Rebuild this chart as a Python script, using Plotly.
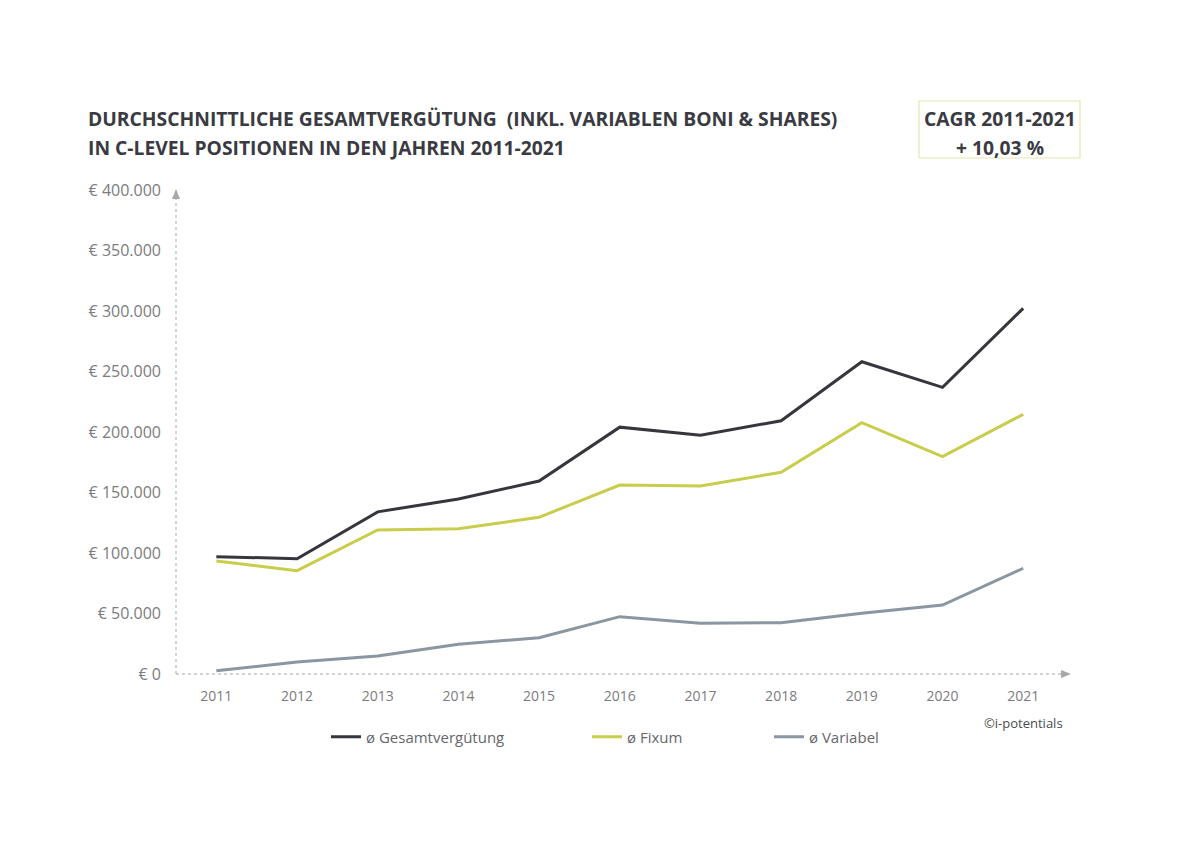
import plotly.graph_objects as go

years = [2011, 2012, 2013, 2014, 2015, 2016, 2017, 2018, 2019, 2020, 2021]
gesamt = [97000, 95300, 134000, 144600, 159500, 204000, 197300, 209300, 258100, 236900, 302200]
fixum = [93400, 85400, 119000, 120100, 129500, 156200, 155400, 166700, 207700, 179600, 214600]
variabel = [2700, 9900, 14900, 24500, 30000, 47400, 41900, 42400, 50200, 57000, 87400]

series_names = ["ø Gesamtvergütung", "ø Fixum", "ø Variabel"]
series_colors = ["#36363e", "#c9cd4c", "#8a97a2"]

y_tickvals = [0, 50000, 100000, 150000, 200000, 250000, 300000, 350000, 400000]
y_ticktext = ["€ 0", "€ 50.000", "€ 100.000", "€ 150.000", "€ 200.000",
              "€ 250.000", "€ 300.000", "€ 350.000", "€ 400.000"]

title_lines = ["DURCHSCHNITTLICHE GESAMTVERGÜTUNG  (INKL. VARIABLEN BONI & SHARES)",
               "IN C-LEVEL POSITIONEN IN DEN JAHREN 2011-2021"]
cagr_lines = ["CAGR 2011-2021", "+ 10,03 %"]
credit = "©i-potentials"

W, H = 1200, 848
OFF = 8  # page body margin
L, R, T, B = 176, 1070, 190, 674  # plot area in screen pixels

def px(x):
    return (x - L) / (R - L)

def py(y):
    return (B - y) / (B - T)

fig = go.Figure()
legend_ids = ["legend2", "legend3", "legend4"]
for name, vals, col, lg in zip(series_names, [gesamt, fixum, variabel], series_colors, legend_ids):
    fig.add_trace(go.Scatter(x=years, y=vals, mode="lines", name=name,
                             line=dict(color=col, width=3), legend=lg, showlegend=True))

tick_font = dict(family="Open Sans", size=14, color="#7b7b80")
legend_font = dict(family="Open Sans", size=15, color="#66666c")
leg_common = dict(orientation="h", yanchor="middle", xanchor="left", visible=True,
                  font=legend_font, bgcolor="rgba(0,0,0,0)")

fig.update_layout(
    width=W, height=H, showlegend=True,
    paper_bgcolor="white", plot_bgcolor="white",
    margin=dict(l=L - OFF, r=W - (R - OFF), t=T - OFF, b=H - (B - OFF), pad=0),
    xaxis=dict(range=[2010.5, 2021.58], tickvals=years, ticktext=[str(y) for y in years],
               showgrid=False, zeroline=False, showline=False, ticks="",
               tickfont=tick_font, ticklabelstandoff=12),
    yaxis=dict(range=[0, 400000], tickvals=y_tickvals, ticktext=y_ticktext,
               showgrid=False, zeroline=False, showline=False, ticks="",
               tickfont=dict(family="Open Sans", size=16, color="#7b7b80"),
               ticklabelstandoff=14),
    legend2=dict(x=px(326), y=py(737), **leg_common),
    legend3=dict(x=px(587), y=py(737), **leg_common),
    legend4=dict(x=px(769), y=py(737), **leg_common),
)

axis_col = "#a8a8ac"
shapes = [
    dict(type="line", xref="paper", yref="paper", x0=0, x1=0, y0=0, y1=py(197),
         line=dict(color=axis_col, width=1, dash="dot")),
    dict(type="line", xref="paper", yref="paper", x0=0, x1=px(1063), y0=0, y1=0,
         line=dict(color=axis_col, width=1, dash="dot")),
    dict(type="path", xref="paper", yref="paper",
         path=f"M {px(172)} {py(199)} L {px(180)} {py(199)} L {px(176)} {py(189)} Z",
         fillcolor=axis_col, line=dict(width=0)),
    dict(type="path", xref="paper", yref="paper",
         path=f"M {px(1061)} {py(670)} L {px(1061)} {py(678)} L {px(1071)} {py(674)} Z",
         fillcolor=axis_col, line=dict(width=0)),
    dict(type="rect", xref="paper", yref="paper", x0=px(919), x1=px(1080), y0=py(158), y1=py(101),
         line=dict(color="#e3e6b4", width=1.2), fillcolor="rgba(0,0,0,0)"),
]
fig.update_layout(shapes=shapes)

title_font = dict(family="Open Sans", size=19.3, color="#3a3a42", weight="bold")
annots = [
    dict(text=title_lines[0], x=px(86), y=py(118), xanchor="left", yanchor="middle"),
    dict(text=title_lines[1], x=px(86), y=py(147), xanchor="left", yanchor="middle"),
    dict(text=cagr_lines[0], x=px(1000), y=py(118), xanchor="center", yanchor="middle"),
    dict(text=cagr_lines[1], x=px(1000), y=py(148), xanchor="center", yanchor="middle"),
]
for a in annots:
    fig.add_annotation(xref="paper", yref="paper", showarrow=False, font=title_font, **a)

fig.add_annotation(xref="paper", yref="paper", showarrow=False, text=credit,
                   x=px(1065), y=py(723), xanchor="right", yanchor="middle",
                   font=dict(family="Liberation Sans Narrow, Open Sans", size=13, color="#4a4a50"))

fig.write_html("out.html")
